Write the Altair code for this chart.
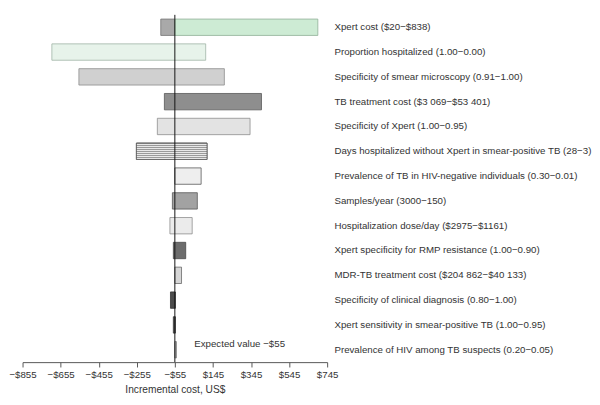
import altair as alt
import pandas as pd

labels = [
    "Xpert cost ($20\u2212$838)",
    "Proportion hospitalized (1.00\u22120.00)",
    "Specificity of smear microscopy (0.91\u22121.00)",
    "TB treatment cost ($3 069\u2212$53 401)",
    "Specificity of Xpert (1.00\u22120.95)",
    "Days hospitalized without Xpert in smear-positive TB (28\u22123)",
    "Prevalence of TB in HIV-negative individuals (0.30\u22120.01)",
    "Samples/year (3000\u2212150)",
    "Hospitalization dose/day ($2975\u2212$1161)",
    "Xpert specificity for RMP resistance (1.00\u22120.90)",
    "MDR-TB treatment cost ($204 862\u2212$40 133)",
    "Specificity of clinical diagnosis (0.80\u22121.00)",
    "Xpert sensitivity in smear-positive TB (1.00\u22120.95)",
    "Prevalence of HIV among TB suspects (0.20\u22120.05)",
]
# segment start / end (incremental cost, US$)
seg_label = [0, 0, 1, 2, 3, 4, 5, 6, 7, 8, 9, 10, 11, 12, 13]
seg_lo = [-129, -55, -701, -559, -110, -147, -257, -55, -68, -81, -63, -55, -78, -63, -55]
seg_hi = [-55, 696, 107, 205, 400, 340, 114, 83, 63, 36, 2, -20, -52, -52, -47]

# styles
seg_fill = ["#a9a9a9", "#cdebd4", "#e7f3ea", "#d0d0d0", "#8e8e8e", "#e3e3e3",
            "#d4d4d4", "#eeeeee", "#a2a2a2", "#ebebeb", "#6c6c6c", "#d6d6d6",
            "#4c4c4c", "#585858", "#b0b0b0"]
seg_stroke = ["#6f6f6f", "#8fae95", "#9fb3a5", "#8a8a8a", "#555555", "#8a8a8a",
              "#555555", "#555555", "#555555", "#8a8a8a", "#444444", "#666666",
              "#333333", "#333333", "#777777"]

expected_value = -55
x_ticks = [-855, -655, -455, -255, -55, 145, 345, 545, 745]

df = pd.DataFrame({
    "label": [labels[i] for i in seg_label],
    "lo": seg_lo,
    "hi": seg_hi,
    "fill": seg_fill,
    "stroke": seg_stroke,
})

FONT = "Liberation Sans"
FS = 10

y_enc = alt.Y(
    "label:N", sort=labels,
    scale=alt.Scale(paddingInner=0.34, paddingOuter=0.17),
    axis=alt.Axis(orient="right", title=None, domain=False, ticks=False,
                  labelPadding=7, labelFontSize=FS, labelColor="#333333",
                  labelFont=FONT, labelLimit=400),
)
x_enc = alt.X(
    "lo:Q",
    scale=alt.Scale(domain=[-855, 745], nice=False, zero=False),
    axis=alt.Axis(values=x_ticks, tickCount=len(x_ticks), grid=False, tickSize=5,
                  tickColor="#555555", domainColor="#555555", labelFontSize=FS,
                  labelColor="#333333", labelFont=FONT, labelPadding=3,
                  labelFlush=False, labelOverlap=False,
                  labelExpr="datum.value < 0 ? '\u2212$' + abs(datum.value) : '$' + datum.value",
                  title="Incremental cost, US$", titleFontSize=10.5,
                  titleFontWeight="normal", titleColor="#333333", titleFont=FONT,
                  titlePadding=5),
)

bars = alt.Chart(df).mark_bar(strokeWidth=0.8).encode(
    y=y_enc,
    x=x_enc,
    x2="hi:Q",
    fill=alt.Fill("fill:N", scale=None),
    stroke=alt.Stroke("stroke:N", scale=None),
)

# striped overlay for the horizontally-hatched bar
stops = []
n = 8
for i in range(n):
    a = i / n
    b = (i + 0.5) / n
    stops += [alt.GradientStop(offset=a, color="#9a9a9a"),
              alt.GradientStop(offset=b, color="#9a9a9a"),
              alt.GradientStop(offset=b, color="#e8e8e8"),
              alt.GradientStop(offset=(i + 1) / n, color="#e8e8e8")]
grad = alt.LinearGradient(gradient="linear", x1=0, y1=0, x2=0, y2=1, stops=stops)

stripe_df = df[df["label"] == labels[5]]
stripes = alt.Chart(stripe_df).mark_bar(color=grad, stroke="#555555", strokeWidth=0.8).encode(
    y=alt.Y("label:N", sort=labels),
    x="lo:Q",
    x2="hi:Q",
)

rule = alt.Chart(pd.DataFrame({"v": [expected_value]})).mark_rule(
    color="#111111", strokeWidth=1).encode(x="v:Q")

txt = alt.Chart(pd.DataFrame({"label": [labels[13]], "v": [expected_value],
                              "t": ["Expected value \u2212$55"]})).mark_text(
    align="left", dx=20, dy=-6, fontSize=FS, font=FONT, color="#333333").encode(
    y=alt.Y("label:N", sort=labels), x="v:Q", text="t:N")

chart = alt.layer(bars, stripes, rule, txt).properties(
    width=314, height=358, padding=0
).configure_view(stroke=None)

chart.save("out.html", embed_options={"renderer": "svg", "actions": False})
